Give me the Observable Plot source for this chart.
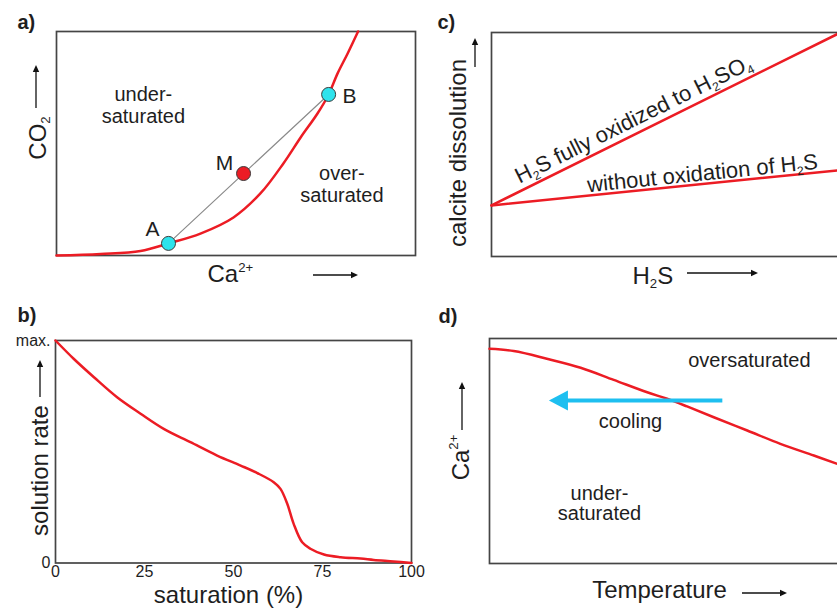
<!DOCTYPE html>
<html>
<head>
<meta charset="utf-8">
<script src="https://cdn.jsdelivr.net/npm/d3@7"></script>
<script src="https://cdn.jsdelivr.net/npm/@observablehq/plot@0.6"></script>
<style>
  body { margin: 0; background: #fff; }
  #wrap { position: relative; width: 837px; height: 611px; overflow: hidden; background: #fff; }
  #wrap svg { position: absolute; overflow: visible; }
</style>
</head>
<body>
<div id="wrap"></div>
<script>
// ---------- data ----------
// a) CO2 vs Ca2+ equilibrium curve
const caA  = [0, 12.3, 23.4, 31.2, 40.1, 49.3, 56.8, 63.2, 68.0, 72.7, 75.8, 78.3, 81.1, 84.0];
const co2A = [0, 0.7, 2.0, 5.4, 9.8, 17.0, 27.7, 41.1, 52.7, 63.4, 71.9, 81.3, 90.2, 100];
const pointNames = ["A", "M", "B"];
const pointCa    = [31.2, 52.1, 75.8];
const pointCo2   = [5.4, 36.6, 71.9];
const regionTextA = ["under-\nsaturated", "over-\nsaturated"];
const regionCaA   = [24.2, 79.5];
const regionCo2A  = [67.4, 32.0];

// b) solution rate vs saturation (%)
const satB  = [0, 5.1, 10.8, 17.3, 23.9, 30.4, 37.9, 45.4, 52.0, 56.7, 61.3, 63.2, 65.1, 66.9, 69.3, 71.6, 75.4, 80.1, 85.7, 89.4, 95.0, 100];
const rateB = [1.0, 0.918, 0.835, 0.745, 0.671, 0.603, 0.543, 0.483, 0.438, 0.404, 0.363, 0.333, 0.266, 0.176, 0.093, 0.064, 0.038, 0.026, 0.020, 0.014, 0.007, 0];
const satTicks = [0, 25, 50, 75, 100];
const rateTicks = [0, 1];
const rateTickLabels = ["0", "max."];

// c) calcite dissolution vs H2S
const seriesC = ["oxidized", "not oxidized"];
const h2sStart = [0, 0], h2sEnd = [98.6, 100];
const dissStart = [22.8, 22.8], dissEnd = [100, 38.8];
const labelC = ["H_{2}S fully oxidized to H_{2}SO_{4}", "without oxidation of H_{2}S"];
const labelH2sC = [40.1, 59.6];
const labelDissC = [61.2, 37.05];

// d) Ca2+ vs temperature
const tempD = [0, 6.8, 16.1, 25.6, 34.9, 44.3, 49.9, 55.5, 63.0, 72.4, 81.7, 91.1, 97.7, 100];
const caD   = [95.4, 94.4, 91.0, 87.0, 81.6, 76.1, 73.2, 69.8, 65.0, 59.1, 53.2, 48.0, 44.3, 43.0];
const regionTextD = ["oversaturated", "cooling"];
const regionTempD = [73.0, 39.6];
const regionCaD   = [90.2, 63.1];
const underTextD = ["under-\nsaturated"];
const underTempD = [30.9];
const underCaD   = [26.7];
const coolFrom = [65.4], coolTo = [19.5], coolCa = [72.4];

// ---------- styling ----------
const RED = "#ec1c24", DOT_CYAN = "#2ee3ec", ARROW_CYAN = "#1ebff0", FRAME = "#454545", INK = "#1e1e1e";
const FONT = "'Liberation Sans', Arial, Helvetica, sans-serif";
const baseStyle = {fontFamily: FONT, background: "transparent", overflow: "visible", color: INK};
const NS = "http://www.w3.org/2000/svg";
const wrap = document.getElementById("wrap");

const label = (s, o) => Plot.text([s], {text: d => d, fill: INK, fontFamily: FONT, ...o});
const panelTag = (s, o) => label(s, {fontWeight: "bold", fontSize: 20, textAnchor: "start", lineAnchor: "bottom", frameAnchor: "top-left", ...o});

// axis direction arrow (decoration), placed relative to the frame like the labels
function axisArrow({anchor, dx, dy, length, vertical}) {
  return (index, scales, values, dims) => {
    const {width, height, marginLeft, marginRight, marginTop, marginBottom} = dims;
    const fx = anchor === "left" ? marginLeft : (marginLeft + width - marginRight) / 2;
    const fy = anchor === "left" ? (marginTop + height - marginBottom) / 2 : height - marginBottom;
    const cx = fx + dx, cy = fy + dy, h = length / 2, head = 7, hw = 3.2;
    const g = document.createElementNS(NS, "g");
    const line = document.createElementNS(NS, "path");
    const tri = document.createElementNS(NS, "path");
    if (vertical) {
      line.setAttribute("d", `M${cx},${cy + h}V${cy - h + head - 0.5}`);
      tri.setAttribute("d", `M${cx},${cy - h}L${cx - hw},${cy - h + head}L${cx + hw},${cy - h + head}Z`);
    } else {
      line.setAttribute("d", `M${cx - h},${cy}H${cx + h - head + 0.5}`);
      tri.setAttribute("d", `M${cx + h},${cy}L${cx + h - head},${cy - hw}L${cx + h - head},${cy + hw}Z`);
    }
    line.setAttribute("stroke", "#111");
    line.setAttribute("stroke-width", 1.3);
    line.setAttribute("fill", "none");
    tri.setAttribute("fill", "#111");
    g.appendChild(line);
    g.appendChild(tri);
    return g;
  };
}

// ---------- a) ----------
const curveA = caA.map((x, i) => ({ca: x, co2: co2A[i]}));
const pointsA = pointNames.map((n, i) => ({name: n, ca: pointCa[i], co2: pointCo2[i]}));
const regionsA = regionTextA.map((t, i) => ({t, ca: regionCaA[i], co2: regionCo2A[i]}));
const plotA = Plot.plot({
  width: 420, height: 300, marginLeft: 56, marginRight: 5, marginTop: 31, marginBottom: 45,
  x: {domain: [0, 100], axis: null}, y: {domain: [0, 100], axis: null},
  style: baseStyle,
  marks: [
    Plot.frame({stroke: FRAME, strokeWidth: 1.7}),
    Plot.line(curveA, {x: "ca", y: "co2", stroke: RED, strokeWidth: 2.5, curve: "catmull-rom"}),
    Plot.line(pointsA.filter(d => d.name !== "M"), {x: "ca", y: "co2", stroke: "#8a8a8a", strokeWidth: 1.2}),
    Plot.dot(pointsA.filter(d => d.name !== "M"), {x: "ca", y: "co2", r: 7, fill: DOT_CYAN, stroke: "#3a3a3a", strokeWidth: 1}),
    Plot.dot(pointsA.filter(d => d.name === "M"), {x: "ca", y: "co2", r: 7, fill: RED, stroke: "#3a3a3a", strokeWidth: 1}),
    Plot.text(pointsA.filter(d => d.name === "A"), {x: "ca", y: "co2", text: "name", fontSize: 21, fill: INK, dx: -16, dy: -14}),
    Plot.text(pointsA.filter(d => d.name === "M"), {x: "ca", y: "co2", text: "name", fontSize: 21, fill: INK, dx: -19, dy: -10}),
    Plot.text(pointsA.filter(d => d.name === "B"), {x: "ca", y: "co2", text: "name", fontSize: 21, fill: INK, dx: 21, dy: 2}),
    Plot.text(regionsA, {x: "ca", y: "co2", text: "t", fontSize: 20, lineHeight: 1.1, fill: INK}),
    panelTag("a)", {dx: -39, dy: -3}),
    label("CO_{2}", {frameAnchor: "left", rotate: -90, fontSize: 24, textAnchor: "middle", lineAnchor: "bottom", dx: -11, dy: -5.5}),
    axisArrow({anchor: "left", vertical: true, dx: -20, dy: -56.5, length: 43}),
    label("Ca^{2+}", {frameAnchor: "bottom", fontSize: 24, textAnchor: "start", lineAnchor: "bottom", dx: -28.5, dy: 26.5}),
    axisArrow({anchor: "bottom", dx: 100, dy: 20, length: 45})
  ]
});

// ---------- b) ----------
const curveB = satB.map((x, i) => ({sat: x, rate: rateB[i]}));
const plotB = Plot.plot({
  width: 420, height: 311, marginLeft: 55, marginRight: 9, marginTop: 40, marginBottom: 48.5,
  x: {domain: [0, 100], axis: null}, y: {domain: [0, 1], axis: null},
  style: baseStyle,
  marks: [
    Plot.axisX({ticks: satTicks, tickSize: 0, tickPadding: 3, fontSize: 16, label: null, fill: INK}),
    Plot.axisY({ticks: rateTicks, tickFormat: d => rateTickLabels[rateTicks.indexOf(d)], tickSize: 0, tickPadding: 5, fontSize: 16, label: null, fill: INK}),
    Plot.frame({stroke: FRAME, strokeWidth: 1.7}),
    Plot.line(curveB, {x: "sat", y: "rate", stroke: RED, strokeWidth: 2.5, curve: "catmull-rom"}),
    panelTag("b)", {dx: -38, dy: -19}),
    label("solution rate", {frameAnchor: "left", rotate: -90, fontSize: 24, textAnchor: "middle", lineAnchor: "bottom", dx: -8, dy: 18.75}),
    axisArrow({anchor: "left", vertical: true, dx: -15, dy: -72.75, length: 37}),
    label("saturation (%)", {frameAnchor: "bottom", fontSize: 24, textAnchor: "middle", lineAnchor: "bottom", dx: -5, dy: 39.5})
  ]
});

// ---------- c) ----------
const W_C = 430, H_C = 300, ML_C = 71, MR_C = 5, MT_C = 32, MB_C = 44;
const pxX = (W_C - ML_C - MR_C) / 100, pxY = (H_C - MT_C - MB_C) / 100;
const linesC = seriesC.flatMap((s, i) => [
  {s, h2s: h2sStart[i], diss: dissStart[i]},
  {s, h2s: h2sEnd[i], diss: dissEnd[i]}
]);
const labelsC = labelC.map((t, i) => ({
  t, h2s: labelH2sC[i], diss: labelDissC[i],
  angle: -Math.atan2((dissEnd[i] - dissStart[i]) * pxY, (h2sEnd[i] - h2sStart[i]) * pxX) * 180 / Math.PI
}));
const plotC = Plot.plot({
  width: W_C, height: H_C, marginLeft: ML_C, marginRight: MR_C, marginTop: MT_C, marginBottom: MB_C,
  x: {domain: [0, 100], axis: null}, y: {domain: [0, 100], axis: null},
  style: baseStyle,
  marks: [
    Plot.frame({stroke: FRAME, strokeWidth: 1.7}),
    Plot.line(linesC, {x: "h2s", y: "diss", z: "s", stroke: RED, strokeWidth: 2.5}),
    Plot.text(labelsC, {x: "h2s", y: "diss", text: "t", rotate: "angle", fontSize: 22, fill: INK}),
    panelTag("c)", {dx: -54, dy: -4}),
    label("calcite dissolution", {frameAnchor: "left", rotate: -90, fontSize: 24, textAnchor: "middle", lineAnchor: "bottom", dx: -26, dy: 8.5}),
    axisArrow({anchor: "left", vertical: true, dx: -16, dy: -91.5, length: 29}),
    label("H_{2}S", {frameAnchor: "bottom", fontSize: 24, textAnchor: "start", lineAnchor: "bottom", dx: -36, dy: 27}),
    axisArrow({anchor: "bottom", dx: 54.5, dy: 17, length: 71})
  ]
});

// ---------- d) ----------
const curveD = tempD.map((x, i) => ({t: x, ca: caD[i]}));
const regionsD = regionTextD.map((s, i) => ({s, t: regionTempD[i], ca: regionCaD[i]}));
const underD = underTextD.map((s, i) => ({s, t: underTempD[i], ca: underCaD[i]}));
const coolD = coolFrom.map((f, i) => ({from: f, to: coolTo[i], ca: coolCa[i]}));
const triangleLeft = {
  draw(ctx, size) {
    const r = Math.sqrt(size / Math.PI);
    ctx.moveTo(-r, 0); ctx.lineTo(r * 0.9, -r); ctx.lineTo(r * 0.9, r); ctx.closePath();
  }
};
const plotD = Plot.plot({
  width: 430, height: 311, marginLeft: 69, marginRight: 5, marginTop: 38, marginBottom: 48,
  x: {domain: [0, 100], axis: null}, y: {domain: [0, 100], axis: null},
  style: baseStyle,
  marks: [
    Plot.frame({stroke: FRAME, strokeWidth: 1.7}),
    Plot.line(curveD, {x: "t", y: "ca", stroke: RED, strokeWidth: 2.5, curve: "catmull-rom"}),
    Plot.link(coolD, {x1: "from", x2: "to", y1: "ca", y2: "ca", stroke: ARROW_CYAN, strokeWidth: 4}),
    Plot.dot(coolD, {x: "to", y: "ca", r: 10, symbol: triangleLeft, fill: ARROW_CYAN, stroke: "none"}),
    Plot.text(regionsD, {x: "t", y: "ca", text: "s", fontSize: 20, fill: INK}),
    Plot.text(underD, {x: "t", y: "ca", text: "s", fontSize: 20, lineHeight: 1.0, fill: INK}),
    panelTag("d)", {dx: -51, dy: -16}),
    label("Ca^{2+}", {frameAnchor: "left", rotate: -90, fontSize: 24, textAnchor: "middle", lineAnchor: "bottom", dx: -21, dy: 6.5}),
    axisArrow({anchor: "left", vertical: true, dx: -27, dy: -44.5, length: 48}),
    label("Temperature", {frameAnchor: "bottom", fontSize: 24, textAnchor: "middle", lineAnchor: "bottom", dx: -8, dy: 34}),
    axisArrow({anchor: "bottom", dx: 97.5, dy: 30, length: 45})
  ]
});

// ---------- placement & text post-processing ----------
function place(svg, left, top) {
  svg.style.left = left + "px";
  svg.style.top = top + "px";
  wrap.appendChild(svg);
}
place(plotA, 0, 0);
place(plotC, 420, 0);
place(plotB, 0, 300);
place(plotD, 420, 300);

// turn _{..} / ^{..} markup into sub/superscript tspans
function richify(svg) {
  svg.querySelectorAll("text").forEach(t => {
    if (t.children.length) return;
    const s = t.textContent;
    const re = /([_^])\{([^}]*)\}/g;
    if (!re.test(s)) return;
    re.lastIndex = 0;
    const fs = parseFloat(getComputedStyle(t).fontSize) || 16;
    const parts = [];
    let last = 0, m;
    while ((m = re.exec(s))) {
      if (m.index > last) parts.push({t: s.slice(last, m.index), k: ""});
      parts.push({t: m[2], k: m[1]});
      last = m.index + m[0].length;
    }
    if (last < s.length) parts.push({t: s.slice(last), k: ""});
    t.textContent = "";
    let shift = 0;
    for (const p of parts) {
      const ts = document.createElementNS(NS, "tspan");
      ts.textContent = p.t;
      const target = p.k === "_" ? 0.2 * fs : p.k === "^" ? -0.42 * fs : 0;
      const dy = target - shift;
      shift = target;
      if (dy) ts.setAttribute("dy", dy.toFixed(2));
      if (p.k) ts.setAttribute("font-size", (0.55 * fs).toFixed(2));
      t.appendChild(ts);
    }
  });
}
[plotA, plotB, plotC, plotD].forEach(richify);
</script>
</body>
</html>
